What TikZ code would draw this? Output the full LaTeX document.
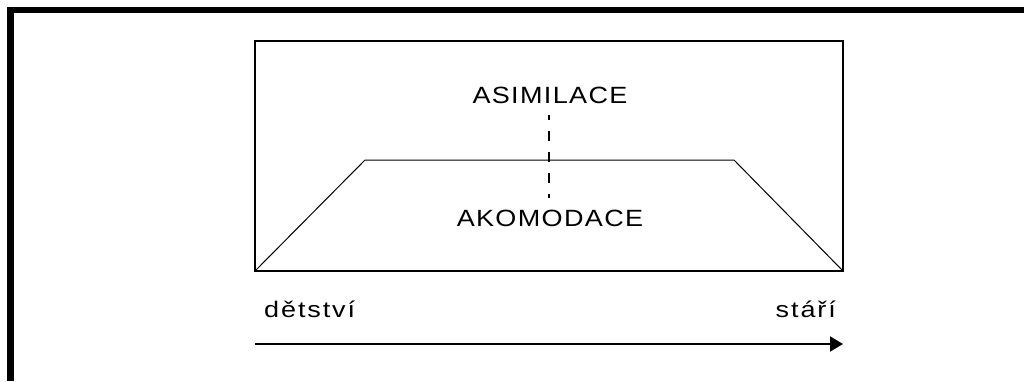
\documentclass[tikz,border=0pt]{standalone}
\usepackage{graphicx}
\usepackage{fontspec}
\setmainfont{Liberation Sans}
\newfontfamily\trkcaps{Liberation Sans}[LetterSpace=5]
\newfontfamily\trklow{Liberation Sans}[LetterSpace=7]
\newcommand{\widetext}[1]{\scalebox{1.15}[1]{#1}}
\newcommand{\widerlow}[1]{\scalebox{1.2}[1]{#1}}
\usetikzlibrary{arrows.meta}
\tikzset{
  boxline/.style={line width=2pt},
  curve/.style={line width=1pt, line join=miter},
  capslabel/.style={inner sep=0pt, font=\trkcaps\fontsize{23.5}{28}\selectfont},
  smalllabel/.style={inner sep=0pt, font=\trklow\fontsize{22.5}{27}\selectfont},
  divider/.style={line width=2pt, dash pattern=on 10pt off 11pt, dash phase=5pt},
  timearrow/.style={line width=2pt, -{Triangle[length=13pt,width=15pt]}}
}
\begin{document}
\begin{tikzpicture}[x=1pt,y=-1pt]
\useasboundingbox (0,0) rectangle (1024,381);
% outer frame (top and left only)
\fill[black] (7,7) rectangle (1024,13);
\fill[black] (7,7) rectangle (14,381);
% box
\coordinate (tl) at (255,41);
\coordinate (br) at (843,271);
\coordinate (bl) at (255,271);
\draw[boxline] (tl) rectangle (br);
% trapezoid
\coordinate (p1) at (365,160);
\coordinate (p2) at (734,160);
\draw[curve] (bl) -- (p1) -- (p2) -- (br);
% labels
\node[capslabel, anchor=base] (asim) at (550,103) {\widetext{ASIMILACE}};
\node[capslabel, anchor=base] (akom) at (550,226) {\widetext{AKOMODACE}};
\coordinate (dtop) at (549,115);
\coordinate (dbot) at (549,198);
\draw[divider] (dtop) -- (dbot);
\node[smalllabel, anchor=base west] (det) at (264,317) {\widerlow{dětství}};
\node[smalllabel, anchor=base east] (sta) at (836,317) {\widerlow{stáří}};
% arrow
\coordinate (a0) at (255,344);
\coordinate (a1) at (843,344);
\draw[timearrow] (a0) -- (a1);
\end{tikzpicture}
\end{document}
